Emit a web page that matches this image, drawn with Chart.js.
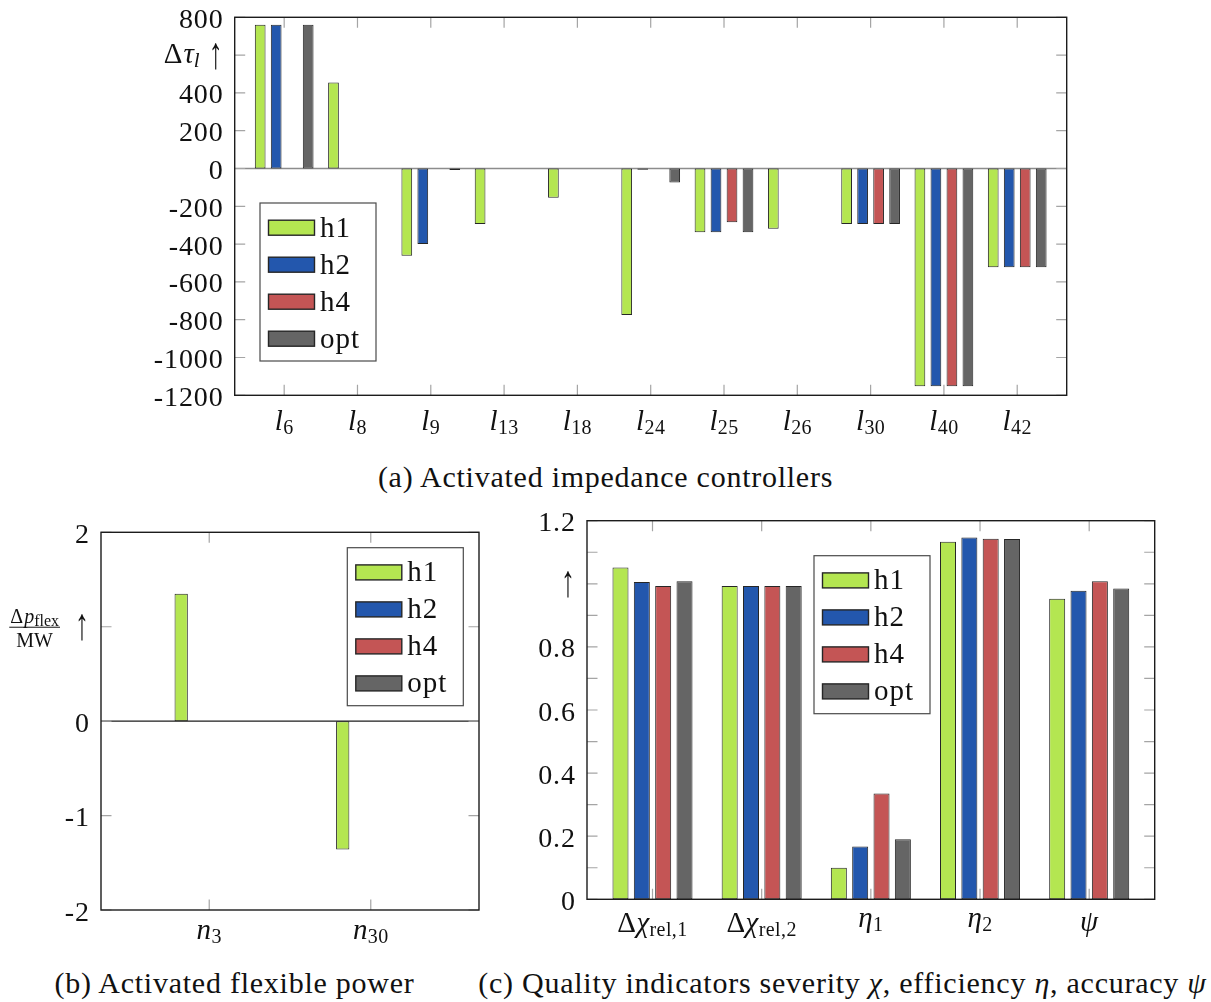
<!DOCTYPE html>
<html><head><meta charset="utf-8">
<script src="https://cdn.jsdelivr.net/npm/chart.js@4.4.1/dist/chart.umd.min.js"></script>
<style>
html,body{margin:0;padding:0;background:#fff;}
body{width:1211px;height:1002px;position:relative;overflow:hidden;font-family:'Liberation Serif',serif;color:#111;}
canvas{position:absolute;}
.cap{position:absolute;font-size:30px;letter-spacing:0.75px;white-space:nowrap;text-align:center;line-height:34px;}
</style></head><body>
<canvas id="ca" width="1211" height="450" style="left:0;top:0"></canvas>
<canvas id="cb" width="500" height="460" style="left:0;top:500px"></canvas>
<canvas id="cc" width="711" height="460" style="left:500px;top:500px"></canvas>
<div class="cap" style="left:0;width:1211px;top:460px">(a) Activated impedance controllers</div>
<div class="cap" style="left:0;width:469px;top:966px">(b) Activated flexible power</div>
<div class="cap" style="left:474px;width:737px;top:966px">(c) Quality indicators severity <i>χ</i>, efficiency <i>η</i>, accuracy <i>ψ</i></div>
<script>
// ---------- data ----------
const seriesNames = ['h1', 'h2', 'h4', 'opt'];

// (a) impedance controllers
const lineIds = ['6', '8', '9', '13', '18', '24', '25', '26', '30', '40', '42'];
const tauH1  = [760, 455, -462, -294, -155, -775, -337, -319, -294, -1152, -523];
const tauH2  = [760, 0, -400, 0, 0, -6, -337, 0, -294, -1152, -523];
const tauH4  = [0, 0, 0, 0, 0, 0, -285, 0, -294, -1152, -523];
const tauOpt = [760, 0, -8, 0, 0, -74, -337, 0, -294, -1152, -523];
const tauTicks = [-1200, -1000, -800, -600, -400, -200, 0, 200, 400, 600, 800];

// (b) flexible power
const nodeIds = ['3', '30'];
const flexH1  = [1.35, -1.36];
const flexH2  = [0, 0];
const flexH4  = [0, 0];
const flexOpt = [0, 0];
const flexTicks = [-2, -1, 0, 1, 2];

// (c) quality indicators
const indicatorNames = ['Δχ_rel,1', 'Δχ_rel,2', 'η_1', 'η_2', 'ψ'];
const qH1  = [1.052, 0.993, 0.100, 1.133, 0.953];
const qH2  = [1.006, 0.993, 0.167, 1.147, 0.978];
const qH4  = [0.993, 0.993, 0.335, 1.143, 1.008];
const qOpt = [1.008, 0.993, 0.190, 1.142, 0.985];
const qLabelTicks = [0, 0.2, 0.4, 0.6, 0.8, 1.0, 1.2];
const qMarkTicks = [0, 0.1, 0.2, 0.3, 0.4, 0.5, 0.6, 0.7, 0.8, 0.9, 1.0, 1.1, 1.2];

// ---------- styling ----------
const SERIF = "'Liberation Serif', 'DejaVu Serif', serif";
const COLORS = ['#b4e651', '#2357ad', '#c45555', '#656565'];
const TEXT = '#111';
const TL = 10.5;
const LS = 0.9; // letter spacing for canvas text

function fontOf(s) { return (s.it ? 'italic ' : '') + s.sz + 'px ' + SERIF; }
function setLS(ctx, v) { if ('letterSpacing' in ctx) ctx.letterSpacing = v + 'px'; }

function rich(label, base, sub) {
  const parts = label.split('_');
  const segs = [];
  for (const ch of parts[0]) segs.push({ t: ch, it: /[a-zα-ω]/.test(ch), sz: base, dy: 0 });
  if (parts[1]) segs.push({ t: parts[1], it: /^[a-z]$/.test(parts[1]), sz: sub, dy: Math.round(sub * 0.22) });
  return segs;
}

// draw rich text; mode 'top' anchors glyph top at y, otherwise y is baseline
function drawRich(ctx, segs, x, y, align, mode) {
  let w = 0, asc = 0;
  segs.forEach(s => {
    ctx.font = fontOf(s);
    const m = ctx.measureText(s.t);
    s._w = m.width + (s.gap || 0);
    asc = Math.max(asc, m.actualBoundingBoxAscent * (s.sy || 1) - s.dy);
    w += s._w;
  });
  let cx = align === 'center' ? x - w / 2 : align === 'right' ? x - w : x;
  const left = cx;
  const base = mode === 'top' ? y + asc : y;
  ctx.textAlign = 'left';
  ctx.textBaseline = 'alphabetic';
  segs.forEach(s => {
    ctx.font = fontOf(s);
    if (s.sy) {
      ctx.save();
      ctx.translate(cx, base + s.dy);
      ctx.scale(1, s.sy);
      ctx.fillText(s.t, 0, 0);
      ctx.restore();
    } else {
      ctx.fillText(s.t, cx, base + s.dy);
    }
    cx += s._w;
  });
  return { left, width: w };
}

function drawLegend(chart, L) {
  const ctx = chart.ctx, a = chart.chartArea;
  const W = 116, H = 158;
  const left = a.left + L.dx, top = a.top + L.dy;
  ctx.fillStyle = '#fff';
  ctx.fillRect(left, top, W, H);
  ctx.strokeStyle = '#4a4a4a';
  ctx.lineWidth = 1.2;
  ctx.strokeRect(left, top, W, H);
  chart.data.datasets.forEach((ds, k) => {
    const cy = top + 24.7 + k * 37;
    ctx.fillStyle = ds.backgroundColor;
    ctx.fillRect(left + 8.5, cy - 7.5, 46, 15);
    ctx.strokeStyle = '#262626';
    ctx.lineWidth = 1.4;
    ctx.strokeRect(left + 8.5, cy - 7.5, 46, 15);
    ctx.fillStyle = TEXT;
    ctx.font = '29px ' + SERIF;
    setLS(ctx, 1);
    ctx.textAlign = 'left';
    ctx.textBaseline = 'alphabetic';
    ctx.fillText(ds.label, left + 60, cy + 9);
    setLS(ctx, 0);
  });
}

const decorPlugin = {
  id: 'decor',
  beforeDatasetsDraw(chart, _args, o) {
    if (!o.zeroUnder) return;
    const { ctx, chartArea: a } = chart;
    const py = chart.scales.y.getPixelForValue(0);
    ctx.save();
    ctx.strokeStyle = o.zeroUnder.color;
    ctx.lineWidth = o.zeroUnder.width;
    ctx.beginPath(); ctx.moveTo(a.left, py); ctx.lineTo(a.right, py); ctx.stroke();
    ctx.restore();
  },
  afterDatasetsDraw(chart, _args, o) {
    const { ctx, chartArea: a } = chart;
    const xs = chart.scales.x, ys = chart.scales.y;
    ctx.save();
    if (o.zeroOver) {
      const py = ys.getPixelForValue(0);
      ctx.strokeStyle = o.zeroOver.color;
      ctx.lineWidth = o.zeroOver.width;
      ctx.beginPath(); ctx.moveTo(a.left, py); ctx.lineTo(a.right, py); ctx.stroke();
    }
    // tick marks (inside, both sides)
    ctx.strokeStyle = '#a5a5a5';
    ctx.lineWidth = 1.2;
    ctx.beginPath();
    o.yMarks.forEach(v => {
      const py = ys.getPixelForValue(v);
      ctx.moveTo(a.left, py); ctx.lineTo(a.left + TL, py);
      ctx.moveTo(a.right, py); ctx.lineTo(a.right - TL, py);
    });
    xs.ticks.forEach(t => {
      const px = xs.getPixelForValue(t.value);
      ctx.moveTo(px, a.top); ctx.lineTo(px, a.top + TL);
      ctx.moveTo(px, a.bottom); ctx.lineTo(px, a.bottom - TL);
    });
    ctx.stroke();
    // frame
    ctx.strokeStyle = '#1c1c1c';
    ctx.lineWidth = 1.4;
    ctx.strokeRect(a.left, a.top, a.right - a.left, a.bottom - a.top);
    // y tick labels
    ctx.fillStyle = TEXT;
    ctx.font = '28px ' + SERIF;
    ctx.textAlign = 'right';
    ctx.textBaseline = 'alphabetic';
    setLS(ctx, LS);
    o.yLabels.forEach(v => {
      if (v === o.axisLabelAt) return;
      ctx.fillText(o.fmt(v), a.left - 12 + LS, ys.getPixelForValue(v) + 10.5);
    });
    // axis label at special tick
    o.axisLabel(ctx, a.left - 12, ys.getPixelForValue(o.axisLabelAt));
    // x tick labels
    ctx.fillStyle = TEXT;
    setLS(ctx, 0.4);
    o.xLabels.forEach((segs, i) => drawRich(ctx, segs, xs.getPixelForValue(i), a.bottom + o.xTop, 'center', 'top'));
    setLS(ctx, 0);
    drawLegend(chart, o.legend);
    ctx.restore();
  }
};

function makeDatasets(arrays) {
  return arrays.map((arr, k) => ({
    label: seriesNames[k],
    data: arr.map((v, i) => ({ x: i, y: v })),
    backgroundColor: COLORS[k],
    borderColor: '#262626',
    borderWidth: 1,
    borderSkipped: false
  }));
}

function makeChart(id, arrays, n, xMargin, yMin, yMax, pad, catPct, barPct, decor) {
  return new Chart(document.getElementById(id), {
    type: 'bar',
    data: { datasets: makeDatasets(arrays) },
    options: {
      responsive: false,
      animation: false,
      devicePixelRatio: 1,
      layout: { padding: pad, autoPadding: false },
      datasets: { bar: { categoryPercentage: catPct, barPercentage: barPct } },
      plugins: { legend: { display: false }, tooltip: { enabled: false }, decor },
      scales: {
        x: {
          type: 'linear', display: false, offset: false,
          min: -xMargin, max: n - 1 + xMargin,
          ticks: { stepSize: 1, includeBounds: false },
          afterBuildTicks: s => { s.ticks = Array.from({ length: n }, (_, i) => ({ value: i })); }
        },
        y: { type: 'linear', display: false, min: yMin, max: yMax }
      }
    },
    plugins: [decorPlugin]
  });
}

const ARROW = { t: '↑', it: false, sz: 28, dy: 0, sy: 1.6 };

// (a)
makeChart('ca', [tauH1, tauH2, tauH4, tauOpt], lineIds.length, 0.675,
  tauTicks[0], tauTicks[tauTicks.length - 1],
  { left: 234.7, right: 144.3, top: 17.3, bottom: 54.7 }, 0.873, 0.67,
  {
    zeroUnder: { color: '#8c8c8c', width: 1.5 },
    yMarks: tauTicks,
    yLabels: tauTicks,
    fmt: v => String(v),
    axisLabelAt: 600,
    axisLabel: (ctx, x, y) => {
      ctx.fillStyle = TEXT;
      setLS(ctx, 0);
      drawRich(ctx, [
        { t: 'Δ', it: false, sz: 29, dy: 0, gap: 1 },
        { t: 'τ', it: true, sz: 29, dy: 0 },
        { t: 'l', it: true, sz: 21, dy: 4, gap: 9 },
        Object.assign({}, ARROW, { dy: 5 })
      ], x, y + 8, 'right');
    },
    xLabels: lineIds.map(id => rich('l_' + id, 29, 20)),
    xTop: 14.7,
    legend: { dx: 25.3, dy: 185.7 }
  });

// (b)
makeChart('cb', [flexH1, flexH2, flexH4, flexOpt], nodeIds.length, 0.67,
  flexTicks[0], flexTicks[flexTicks.length - 1],
  { left: 101, right: 21, top: 32.3, bottom: 50 }, 0.463, 0.71,
  {
    zeroOver: { color: '#1c1c1c', width: 1.3 },
    yMarks: flexTicks,
    yLabels: flexTicks,
    fmt: v => String(v),
    axisLabelAt: 1,
    axisLabel: (ctx, x, y) => {
      ctx.fillStyle = TEXT;
      setLS(ctx, 0);
      const arrow = drawRich(ctx, [Object.assign({}, ARROW, { dy: 0 })], x, y + 12, 'right');
      const num = [
        { t: 'Δ', it: false, sz: 20, dy: 0, gap: 1 },
        { t: 'p', it: true, sz: 20, dy: 0 },
        { t: 'flex', it: false, sz: 16, dy: 3 }
      ];
      const den = [{ t: 'MW', it: false, sz: 20, dy: 0 }];
      let nw = 0; num.forEach(s => { ctx.font = fontOf(s); nw += ctx.measureText(s.t).width + (s.gap || 0); });
      ctx.font = fontOf(den[0]);
      const dw = ctx.measureText('MW').width;
      const fw = Math.max(nw, dw) + 2;
      const cx = arrow.left - 15 - fw / 2;
      drawRich(ctx, num, cx, y - 4, 'center');
      drawRich(ctx, den, cx, y + 20, 'center');
      ctx.strokeStyle = TEXT; ctx.lineWidth = 1;
      ctx.beginPath(); ctx.moveTo(cx - fw / 2, y + 0.5); ctx.lineTo(cx + fw / 2, y + 0.5); ctx.stroke();
    },
    xLabels: nodeIds.map(id => rich('n_' + id, 29, 20)),
    xTop: 15,
    legend: { dx: 246.3, dy: 15.4 }
  });

// (c)
makeChart('cc', [qH1, qH2, qH4, qOpt], indicatorNames.length, 0.6,
  qLabelTicks[0], qLabelTicks[qLabelTicks.length - 1],
  { left: 87, right: 56.3, top: 20.7, bottom: 60.7 }, 0.782, 0.75,
  {
    yMarks: qMarkTicks,
    yLabels: qLabelTicks,
    fmt: v => (v === 0 ? '0' : v.toFixed(1)),
    axisLabelAt: 1.0,
    axisLabel: (ctx, x, y) => {
      ctx.fillStyle = TEXT;
      setLS(ctx, 0);
      drawRich(ctx, [Object.assign({}, ARROW)], x, y + 12, 'right');
    },
    xLabels: indicatorNames.map(s => rich(s, 29, 20)),
    xTop: 14,
    legend: { dx: 227, dy: 35 }
  });
</script>
</body></html>
